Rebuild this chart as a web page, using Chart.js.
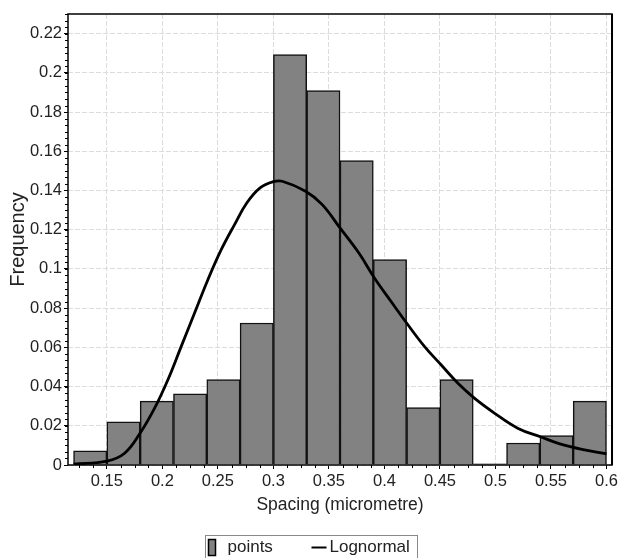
<!DOCTYPE html>
<html>
<head>
<meta charset="utf-8">
<style>
  html, body { margin: 0; padding: 0; background: #fff; }
</style>
<script src="https://cdn.jsdelivr.net/npm/chart.js@4.4.1/dist/chart.umd.min.js"></script>
</head>
<body>
<canvas id="spacingChart" width="621" height="558"></canvas>
<script>
// Histogram bins (centre of each 0.03 wide bin) and their relative frequency
const binCenters = [0.135, 0.165, 0.195, 0.225, 0.255, 0.285, 0.315, 0.345,
                    0.375, 0.405, 0.435, 0.465, 0.495, 0.525, 0.555, 0.585];
const frequencies = [0.0072, 0.022, 0.0326, 0.0363, 0.0436, 0.0724, 0.2093, 0.191,
                     0.1553, 0.1048, 0.0293, 0.0436, 0.0006, 0.0112, 0.015, 0.0326];

// Fitted lognormal curve
const curveX = [0.12, 0.15, 0.166, 0.18, 0.193, 0.205, 0.217, 0.229, 0.241, 0.253, 0.265,
                0.276, 0.288, 0.300, 0.308, 0.329, 0.344, 0.360, 0.377, 0.391, 0.406,
                0.420, 0.436, 0.451, 0.466, 0.481, 0.499, 0.520, 0.541, 0.558, 0.579, 0.600];
const curveY = [0.0005, 0.002, 0.006, 0.0163, 0.029, 0.0435, 0.0605, 0.0775, 0.0945, 0.1098, 0.1226,
                0.1336, 0.1413, 0.1445, 0.1447, 0.1396, 0.1328, 0.1209, 0.1081, 0.0954, 0.0834,
                0.0724, 0.0605, 0.0511, 0.0418, 0.0341, 0.0265, 0.0188, 0.0143, 0.0108, 0.0079, 0.0057];

// Axis ticks
const xTicks = [0.15, 0.2, 0.25, 0.3, 0.35, 0.4, 0.45, 0.5, 0.55, 0.6];
const yTicks = [0, 0.02, 0.04, 0.06, 0.08, 0.1, 0.12, 0.14, 0.16, 0.18, 0.2, 0.22];
const xMinorPerMajor = 4;
const yMinorPerMajor = 6;

const FONT = "'Liberation Sans', Arial, sans-serif";
const TEXT_COLOR = '#222';

// small unlabelled ticks between the labelled ones, plus the frame
const minorTicks = {
  id: 'minorTicks',
  afterDraw(chart) {
    const { ctx, chartArea, scales: { x, y } } = chart;
    ctx.save();
    ctx.strokeStyle = '#000';
    ctx.lineWidth = 1;
    ctx.beginPath();
    const xStep = (xTicks[1] - xTicks[0]) / xMinorPerMajor;
    for (let v = xTicks[0] - xStep; v >= x.min; v -= xStep) {
      const px = Math.round(x.getPixelForValue(v)) + 0.5;
      ctx.moveTo(px, chartArea.bottom); ctx.lineTo(px, chartArea.bottom + 3);
    }
    for (let i = 0; i < xTicks.length - 1; i++) {
      for (let j = 1; j < xMinorPerMajor; j++) {
        const px = Math.round(x.getPixelForValue(xTicks[i] + j * xStep)) + 0.5;
        ctx.moveTo(px, chartArea.bottom); ctx.lineTo(px, chartArea.bottom + 3);
      }
    }
    const yStep = (yTicks[1] - yTicks[0]) / yMinorPerMajor;
    for (let v = yTicks[0] + yStep; v <= y.max; v += yStep) {
      const py = Math.round(y.getPixelForValue(v)) + 0.5;
      ctx.moveTo(chartArea.left, py); ctx.lineTo(chartArea.left - 3, py);
    }
    ctx.stroke();

    ctx.lineWidth = 1.5;
    ctx.strokeRect(chartArea.left, chartArea.top, chartArea.width, chartArea.height);
    ctx.lineWidth = 2;
    ctx.beginPath();
    ctx.moveTo(chartArea.right, chartArea.top);
    ctx.lineTo(chartArea.right, chartArea.bottom);
    ctx.stroke();
    ctx.restore();
  }
};

// boxed legend under the axis title
const boxedLegend = {
  id: 'boxedLegend',
  afterDraw(chart) {
    const { ctx } = chart;
    const [bars, curve] = chart.data.datasets;
    const boxW = 212, boxH = 24;
    const left = Math.round((chart.width - boxW) / 2) + 0.5;
    const top = 535.5;
    const midY = top + 12;
    ctx.save();
    ctx.strokeStyle = '#888';
    ctx.lineWidth = 1;
    ctx.strokeRect(left, top, boxW, boxH);

    ctx.fillStyle = bars.backgroundColor;
    ctx.fillRect(left + 3, midY - 8, 7, 16);
    ctx.strokeStyle = '#000';
    ctx.lineWidth = 1.5;
    ctx.strokeRect(left + 3, midY - 8, 7, 16);

    ctx.strokeStyle = curve.borderColor;
    ctx.lineWidth = 2;
    ctx.beginPath();
    ctx.moveTo(left + 106, midY);
    ctx.lineTo(left + 121, midY);
    ctx.stroke();

    ctx.fillStyle = TEXT_COLOR;
    ctx.font = '17px ' + FONT;
    ctx.textBaseline = 'middle';
    ctx.fillText(bars.label, left + 22, midY);
    ctx.fillText(curve.label, left + 124, midY);
    ctx.restore();
  }
};

const gridStyle = {
  color: '#dcdcdc',
  lineWidth: 1,
  tickLength: 4,
  tickColor: '#000',
  offset: false
};

new Chart(document.getElementById('spacingChart'), {
  type: 'bar',
  data: {
    datasets: [{
      type: 'bar',
      label: 'points',
      data: binCenters.map((c, i) => ({ x: c, y: frequencies[i] })),
      backgroundColor: '#828282',
      borderColor: '#111',
      borderWidth: 1.5,
      barPercentage: 1,
      categoryPercentage: 1,
      order: 2
    }, {
      type: 'line',
      label: 'Lognormal',
      data: curveX.map((v, i) => ({ x: v, y: curveY[i] })),
      borderColor: '#000',
      borderWidth: 2.8,
      pointRadius: 0,
      fill: false,
      tension: 0.4,
      order: 1
    }]
  },
  options: {
    responsive: false,
    animation: false,
    layout: { padding: { top: 14, right: 6, bottom: 41, left: 0 } },
    plugins: {
      legend: { display: false },
      tooltip: { enabled: false }
    },
    scales: {
      x: {
        type: 'linear',
        min: 0.115,
        max: 0.605,
        offset: false,
        grid: gridStyle,
        border: { display: false, dash: [5, 2] },
        afterBuildTicks: axis => { axis.ticks = xTicks.map(v => ({ value: v })); },
        afterFit: axis => { axis.height = 52; },
        ticks: {
          maxRotation: 0,
          autoSkip: false,
          padding: 3,
          color: TEXT_COLOR,
          font: { family: FONT, size: 16.5 },
          callback: v => String(v)
        },
        title: {
          display: true,
          text: 'Spacing (micrometre)',
          color: TEXT_COLOR,
          font: { family: FONT, size: 17.5 },
          padding: { top: 0, bottom: 1.5 }
        }
      },
      y: {
        type: 'linear',
        min: 0,
        max: 0.23,
        grid: gridStyle,
        border: { display: false, dash: [5, 2] },
        afterBuildTicks: axis => { axis.ticks = yTicks.map(v => ({ value: v })); },
        afterFit: axis => { axis.width = 68; },
        ticks: {
          autoSkip: false,
          padding: 2,
          color: TEXT_COLOR,
          font: { family: FONT, size: 16.5 },
          callback: v => String(v)
        },
        title: {
          display: true,
          text: 'Frequency',
          color: TEXT_COLOR,
          font: { family: FONT, size: 20 },
          padding: { top: 6, bottom: 0 }
        }
      }
    }
  },
  plugins: [minorTicks, boxedLegend]
});
</script>
</body>
</html>
